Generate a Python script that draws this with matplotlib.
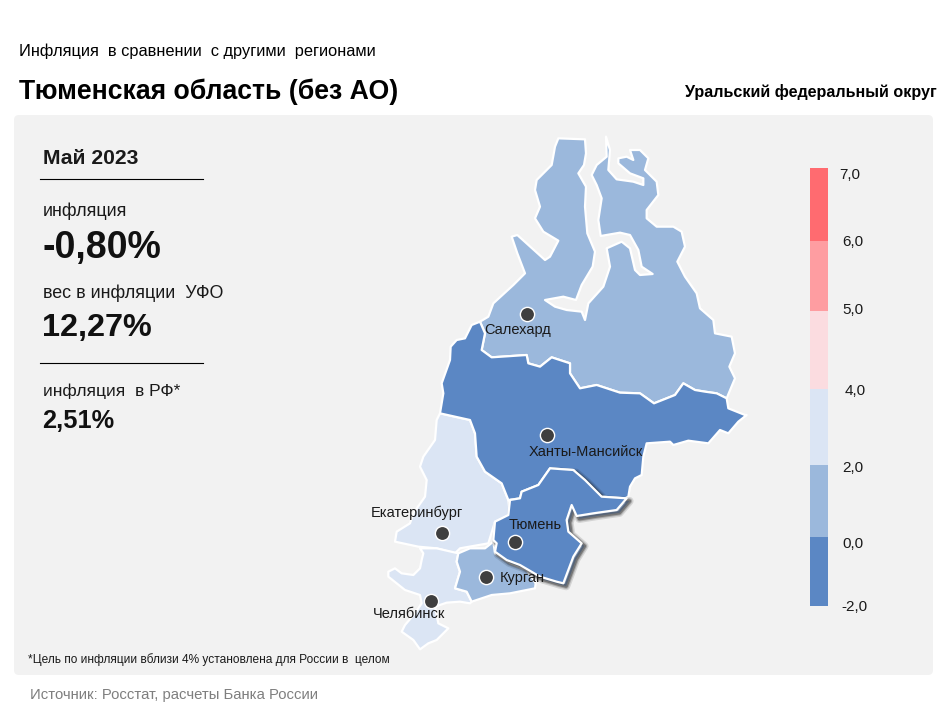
"""
Inflation map of the Ural federal district, May 2023.
Region outlines were read off the reference by eye, each list in its own crop coordinates.
"""

import numpy as np
import matplotlib.pyplot as plt
import matplotlib.patheffects as pe
from matplotlib.patches import FancyBboxPatch, Polygon

plt.rcParams["font.family"] = ["Liberation Sans", "DejaVu Sans"]

C_LOW = "#5b87c4"
C_MID = "#9bb8dc"
C_PALE = "#dbe5f4"

# outlines, zoomed 3x from (430, 120)
YANAO = [(385,55),(465,58),(468,100),(462,135),(445,160),(468,200),(465,260),(472,340),(495,395),(488,440),
         (455,495),(438,540),(400,530),(345,540),(375,560),(410,570),(455,575),(465,600),(475,550),(520,500),
         (540,440),(530,385),(575,365),(600,385),(615,450),(630,465),(668,462),(635,440),(625,390),(600,345),
         (570,338),(512,348),(505,300),(515,235),(500,195),(485,165),(500,135),(530,110),(528,50),(540,90),
         (535,150),(560,178),(610,185),(640,195),(640,175),(600,160),(565,130),(565,115),(590,110),(610,120),
         (600,90),(630,90),(655,115),(645,150),(680,185),(685,225),(650,270),(650,295),(680,320),(730,320),
         (755,335),(765,380),(742,425),(765,470),(800,520),(810,565),(850,600),(855,640),(905,650),(915,700),
         (898,740),(915,775),(890,835),(860,820),(825,815),(795,810),(760,790),(735,825),(672,850),(630,820),
         (570,818),(500,795),(450,805),(420,760),(420,730),(365,712),(330,740),(295,730),(290,705),(185,712),
         (155,690),(165,640),(150,605),(175,590),(190,550),(250,495),(285,460),(262,400),(245,350),(262,345),
         (345,420),(360,410),(385,362),(340,335),(315,295),(330,260),(315,210),(320,180),(365,135),(375,80)]
KHMAO_TOP = [(150,605),(165,640),(155,690),(185,712),(290,705),(295,730),(330,740),(365,712),(420,730),(420,760),
             (450,805),(500,795),(570,818),(630,820),(672,850),(735,825),(760,790),(795,810),(825,815),(860,820),
             (890,835),(895,865),(945,885)]
KHMAO_LEFT = [(30,880),(40,820),(35,790),(60,720),(62,680),(80,660),(105,655),(125,615)]
# zoomed 3x from (620, 390)
KHMAO_EAST = [(380,75),(355,95),(325,130),(300,120),(265,160),(205,152),(160,165),(150,155),(80,160),(70,200),
              (65,255),(45,265),(30,290),(25,320)]
# zoomed 3x from (360, 400)
KHMAO_SOUTH = [(795,295),(725,290),(675,240),(640,210),(570,205),(535,255),(485,275),(480,295),(445,300),(425,250),
               (375,215),(350,170),(345,100),(330,60),(240,40)]
SVERDLOVSK = [(240,40),(330,60),(345,100),(350,170),(375,215),(425,250),(445,300),(450,345),(405,365),(385,430),
              (300,445),(285,460),(230,445),(175,440),(105,425),(110,395),(150,370),(160,340),(195,290),(200,240),
              (180,200),(190,170),(225,120),(230,60)]
TYUMEN = [(450,300),(480,295),(485,275),(535,255),(570,205),(640,210),(675,240),(725,290),(800,295),(770,330),
          (700,340),(650,348),(635,315),(620,360),(625,395),(665,430),(640,470),(625,510),(610,550),(590,545),
          (540,530),(480,495),(440,480),(405,455),(410,430),(400,420),(405,365),(445,345)]
# zoomed 3x from (370, 520)
KURGAN = [(265,100),(300,85),(345,85),(370,65),(375,100),(420,130),(470,150),(497,190),(495,205),(420,220),
          (365,225),(305,245),(290,215),(255,205),(270,155),(260,125)]
# zoomed 3x from (380, 560)
CHELYABINSK = [(120,-35),(170,-35),(235,-20),(230,5),(240,35),(225,85),(260,95),(275,125),(270,130),(240,125),
               (200,128),(165,140),(170,165),(175,190),(205,205),(170,240),(145,250),(120,268),(100,240),(65,215),
               (75,195),(105,160),(125,130),(120,105),(75,90),(50,70),(25,50),(25,35),(45,25),(65,40),
               (100,45),(120,25),(125,0),(130,-20)]

CITIES = [("Салехард", 527, 314, 518, 330), ("Ханты-Мансийск", 547, 435, 586, 452),
          ("Екатеринбург", 442, 533, 417, 513), ("Тюмень", 515, 542, 535, 525),
          ("Курган", 486, 577, 522, 578), ("Челябинск", 431, 601, 409, 614)]

# colour scale: (colour, top pixel, bottom pixel)
SCALE = [("#ff6b70", 168, 241), ("#fe9da1", 241, 311), ("#fbdce0", 311, 389),
         ("#dbe5f4", 389, 465), ("#9bb8dc", 465, 537), ("#5b87c4", 537, 606)]
SCALE_LABELS = [("7,0", 850, 175), ("6,0", 853, 242), ("5,0", 853, 310), ("4,0", 855, 391),
                ("2,0", 853, 468), ("0,0", 853, 544), ("-2,0", 854, 607)]


def crop(points, x0, y0):
    return np.array(points, dtype=float) / 3 + [x0, y0]


def plot_map(out_path="out.png"):
    fig = plt.figure(figsize=(9.5, 7.13), dpi=100)
    ax = fig.add_axes([0, 0, 1, 1])
    ax.set_xlim(0, 950)
    ax.set_ylim(713, 0)
    ax.axis("off")

    ax.add_patch(FancyBboxPatch((14, 115), 919, 560, boxstyle="round,pad=0,rounding_size=5", fc="#f2f2f2", ec="none", zorder=0))

    # regions, Tyumen last because of its shadow
    khmao = np.vstack([crop(KHMAO_TOP, 430, 120), crop(KHMAO_EAST, 620, 390), crop(KHMAO_SOUTH, 360, 400), crop(KHMAO_LEFT, 430, 120)])
    regions = [(crop(YANAO, 430, 120), C_MID), (crop(SVERDLOVSK, 360, 400), C_PALE), (crop(CHELYABINSK, 380, 560), C_PALE),
               (crop(KURGAN, 370, 520), C_MID), (khmao, C_LOW)]
    for xy, color in regions:
        ax.add_patch(Polygon(xy, closed=True, fc=color, ec="white", lw=1.6, joinstyle="round", zorder=2))
    tyumen = Polygon(crop(TYUMEN, 360, 400), closed=True, fc=C_LOW, ec="white", lw=1.6, joinstyle="round", zorder=3)
    tyumen.set_path_effects([pe.Stroke(linewidth=6, foreground="k", alpha=0.12, offset=(2, -2)),
                             pe.Stroke(linewidth=4, foreground="k", alpha=0.2, offset=(2, -2)),
                             pe.Stroke(linewidth=2.5, foreground="k", alpha=0.3, offset=(2, -2)),
                             pe.Normal()])
    ax.add_patch(tyumen)

    for name, x, y, tx, ty in CITIES:
        ax.scatter(x, y, s=105, c="#3f3f3f", edgecolors="white", linewidths=1, zorder=4)
        ax.text(tx, ty, name, fontsize=10.5, color="#1a1a1a", ha="center", va="center", zorder=5)

    # scale
    for color, top, bottom in SCALE:
        ax.bar(819, bottom - top, bottom=top, width=18, color=color, zorder=2)
    for label, x, y in SCALE_LABELS:
        ax.text(x, y, label, fontsize=11, color="#1a1a1a", ha="center", va="center")

    # header
    ax.text(19, 51, "Инфляция  в сравнении  с другими  регионами", fontsize=11.75, va="center", color="black")
    ax.text(19, 92, "Тюменская область (без АО)", fontsize=19.2, fontweight="bold", va="center", color="black")
    ax.text(937, 92, "Уральский федеральный округ", fontsize=11.6, fontweight="bold", va="center", ha="right", color="black")

    # left column
    ax.text(43, 158, "Май 2023", fontsize=15.2, fontweight="bold", va="center", color="#1a1a1a")
    ax.plot([40, 203], [179, 179], color="black", lw=0.8)
    ax.text(43, 211, "инфляция", fontsize=12.9, va="center", color="#1a1a1a")
    ax.text(42, 248, "-0,80%", fontsize=27, fontweight="bold", va="center", color="#111111")
    ax.text(43, 293, "вес в инфляции  УФО", fontsize=12.85, va="center", color="#1a1a1a")
    ax.text(42, 328, "12,27%", fontsize=23.3, fontweight="bold", va="center", color="#111111")
    ax.plot([40, 203], [363, 363], color="black", lw=0.8)
    ax.text(43, 391, "инфляция  в РФ*", fontsize=12.5, va="center", color="#1a1a1a")
    ax.text(42, 421, "2,51%", fontsize=18.3, fontweight="bold", va="center", color="#111111")

    # footnotes
    ax.text(28, 660, "*Цель по инфляции вблизи 4% установлена для России в  целом", fontsize=8.6, va="center", color="#1a1a1a")
    ax.text(30, 695, "Источник: Росстат, расчеты Банка России", fontsize=10.75, va="center", color="#7f7f7f")

    plt.savefig(out_path, dpi=100)
    print(f"Saved: {out_path}")


if __name__ == "__main__":
    plot_map(out_path="out.png")
